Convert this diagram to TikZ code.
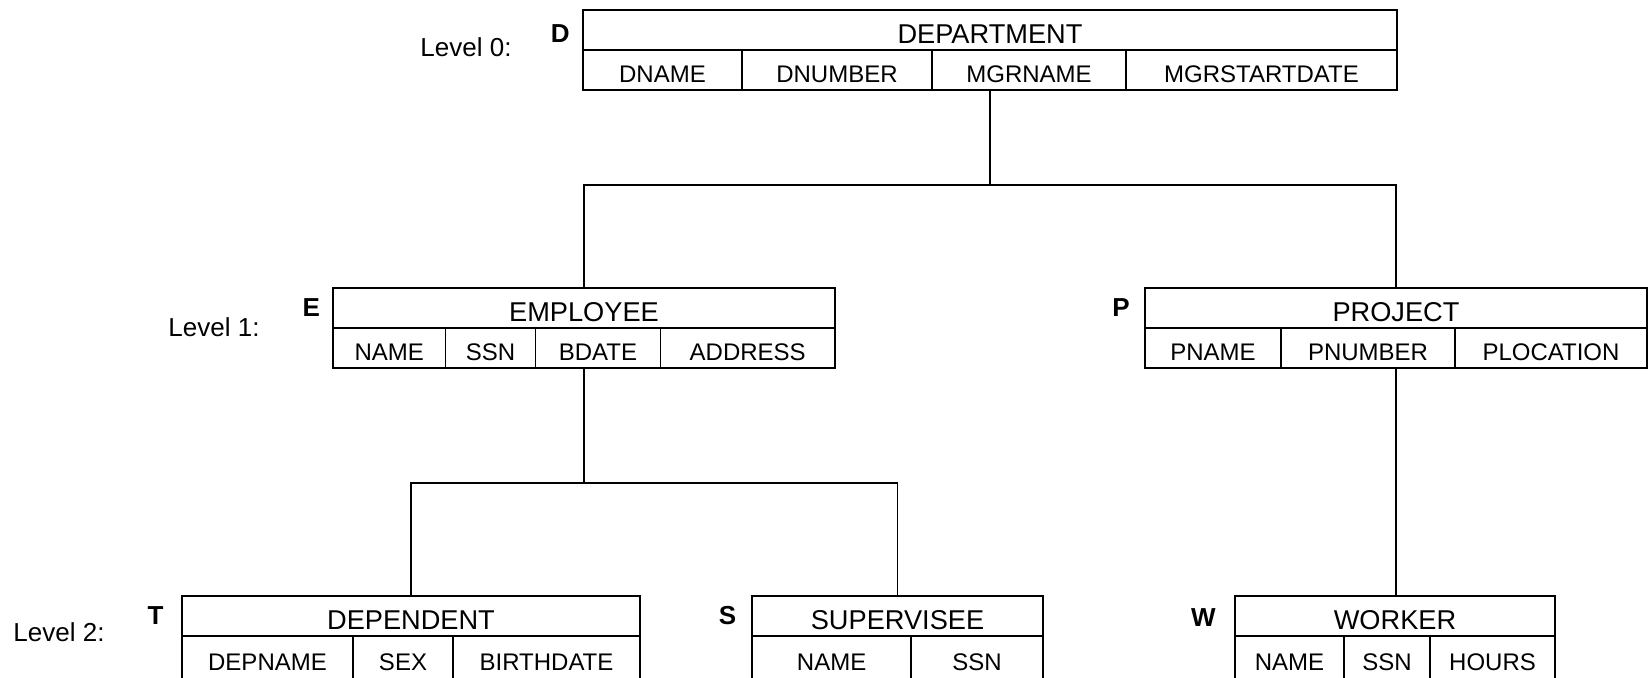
\documentclass[tikz,border=0pt]{standalone}
\usepackage{fontspec}
\setmainfont{Liberation Sans}
\usetikzlibrary{positioning}

\tikzset{
  relname/.style={draw, line width=0.8pt, inner sep=0pt, outer sep=0pt, minimum height=20pt,
    text height=13.4pt, text depth=0pt, anchor=north west, font=\fontsize{13.6}{16}\selectfont},
  attr/.style={draw, line width=0.8pt, inner sep=0pt, outer sep=0pt, minimum height=20pt,
    text height=12.6pt, text depth=0pt, font=\fontsize{12}{14}\selectfont},
  tag/.style={inner sep=0pt, font=\fontsize{13}{15}\selectfont\bfseries},
  lvl/.style={inner sep=0pt, font=\fontsize{13}{15}\selectfont},
  link/.style={line width=0.7pt}
}

\begin{document}
\begin{tikzpicture}[x=0.5pt, y=-0.5pt]
  \useasboundingbox (0,0) rectangle (1649,677);

  % level 0
  \node [relname, minimum width=407pt] (dept) at (583,10) {DEPARTMENT};
  \node [attr, minimum width=79.5pt, below right=0pt and 0pt of dept.south west] (dname) {DNAME};
  \node [attr, minimum width=95pt, right=0pt of dname] (dnum) {DNUMBER};
  \node [attr, minimum width=97pt, right=0pt of dnum] (dmgr) {MGRNAME};
  \node [attr, minimum width=135.5pt, right=0pt of dmgr] (dstart) {MGRSTARTDATE};
  \node [tag, left=6.5pt of dept.west, yshift=-2pt] (dtag) {D};
  \node [lvl] (lv0) at (466,47) {Level 0:};

  % level 1
  \node [relname, minimum width=251pt] (emp) at (333,288) {EMPLOYEE};
  \node [attr, minimum width=56.3pt, below right=0pt and 0pt of emp.south west] (ename) {NAME};
  \node [attr, minimum width=44.9pt, right=0pt of ename] (essn) {SSN};
  \node [attr, minimum width=62.5pt, right=0pt of essn] (ebdate) {BDATE};
  \node [attr, minimum width=87.3pt, right=0pt of ebdate] (eaddr) {ADDRESS};
  \node [tag, left=6.3pt of emp.west] (etag) {E};
  \node [lvl] (lv1) at (214,327) {Level 1:};

  \node [relname, minimum width=251pt] (proj) at (1145,288) {PROJECT};
  \node [attr, minimum width=68pt, below right=0pt and 0pt of proj.south west] (pname) {PNAME};
  \node [attr, minimum width=87pt, right=0pt of pname] (pnum) {PNUMBER};
  \node [attr, minimum width=96pt, right=0pt of pnum] (ploc) {PLOCATION};
  \node [tag, left=7.5pt of proj.west] (ptag) {P};

  % level 2
  \node [relname, minimum width=229pt] (dep) at (182,596) {DEPENDENT};
  \node [attr, minimum height=22pt, minimum width=85.5pt, below right=0pt and 0pt of dep.south west] (depname) {DEPNAME};
  \node [attr, minimum height=22pt, minimum width=50pt, right=0pt of depname] (dsex) {SEX};
  \node [attr, minimum height=22pt, minimum width=93.5pt, right=0pt of dsex] (dbirth) {BIRTHDATE};
  \node [tag, left=9pt of dep.west] (ttag) {T};
  \node [lvl] (lv2) at (59,632) {Level 2:};

  \node [relname, minimum width=145.5pt] (sup) at (752,596) {SUPERVISEE};
  \node [attr, minimum height=22pt, minimum width=79.6pt, below right=0pt and 0pt of sup.south west] (sname) {NAME};
  \node [attr, minimum height=22pt, minimum width=65.9pt, right=0pt of sname] (sssn) {SSN};
  \node [tag, left=7.7pt of sup.west] (stag) {S};

  \node [relname, minimum width=160pt] (wrk) at (1235,596) {WORKER};
  \node [attr, minimum height=22pt, minimum width=54.5pt, below right=0pt and 0pt of wrk.south west] (wname) {NAME};
  \node [attr, minimum height=22pt, minimum width=43pt, right=0pt of wname] (wssn) {SSN};
  \node [attr, minimum height=22pt, minimum width=62.5pt, right=0pt of wssn] (whours) {HOURS};
  \node [tag, left=9.5pt of wrk.west, yshift=-1pt] (wtag) {W};

  % hierarchy links
  \coordinate (j0) at (990,185);
  \coordinate (j1) at (584,483);
  \draw [link] (dept.center |- dmgr.south) -- (j0) -| (emp.north);
  \draw [link] (j0) -| (proj.north);
  \draw [link] (emp.center |- ebdate.south) -- (j1) -| (dep.north);
  \draw [link] (j1) -| (sup.north);
  \draw [link] (proj.center |- pnum.south) -- (proj.center |- wrk.north);
\end{tikzpicture}
\end{document}
